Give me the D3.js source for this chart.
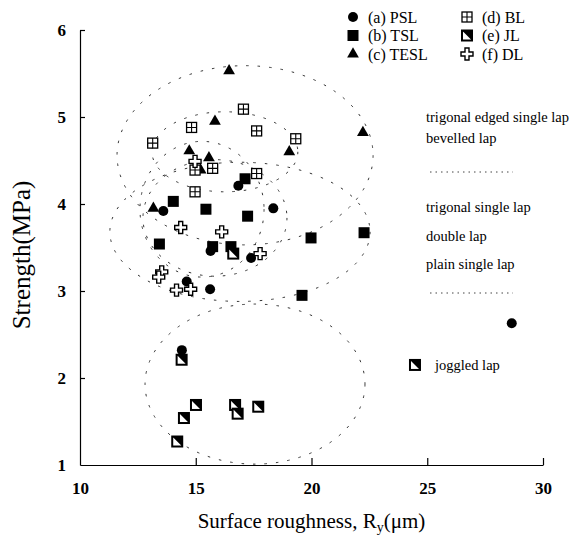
<!DOCTYPE html>
<html>
<head>
<meta charset="utf-8">
<script src="https://cdn.jsdelivr.net/npm/d3@7"></script>
<style>
  body { margin: 0; background: #fff; }
  svg text { font-family: "Liberation Serif", "DejaVu Serif", serif; fill: #000; }
</style>
</head>
<body>
<div id="chart"></div>
<script>
// Strength (MPa) vs surface roughness Ry (um)
const psl = [[14.4, 2.32], [13.6, 3.92], [15.64, 3.46], [14.61, 3.11], [15.62, 3.02], [16.84, 4.21], [18.35, 3.95], [17.39, 3.38], [28.65, 2.63]];
const tsl = [[14.03, 4.03], [13.43, 3.54], [15.44, 3.94], [17.24, 3.86], [15.73, 3.51], [16.52, 3.51], [17.13, 4.29], [19.98, 3.61], [22.27, 3.67], [19.59, 2.95]];
const tesl = [[16.44, 5.53], [22.22, 4.82], [15.83, 4.95], [14.72, 4.61], [15.57, 4.53], [15.21, 4.39], [19.04, 4.6], [13.17, 3.95]];
const bl = [[17.06, 5.09], [14.82, 4.88], [13.14, 4.7], [17.63, 4.84], [19.32, 4.75], [14.97, 4.39], [15.73, 4.41], [17.63, 4.35], [14.97, 4.14]];
const jl = [[14.39, 2.21], [15.01, 1.69], [14.49, 1.54], [14.2, 1.27], [16.7, 1.69], [16.81, 1.59], [17.7, 1.67], [16.62, 3.43], [24.47, 2.15]];
const dl = [[14.97, 4.49], [16.12, 3.68], [14.35, 3.73], [17.78, 3.43], [13.53, 3.22], [13.4, 3.16], [14.17, 3.01], [14.78, 3.02]];

// group regions: centre x, centre y, half width, half height (data units)
const regions = [
  [17.13, 4.56, 5.53, 1.03],
  [16.26, 4.6, 3.15, 0.46],
  [15.27, 3.94, 2.68, 0.78],
  [15.83, 3.84, 3.11, 0.67],
  [16.91, 3.68, 5.62, 0.8],
  [17.56, 1.93, 4.75, 0.92]
];

const legendLabels = ["(a) PSL", "(b) TSL", "(c) TESL", "(d) BL", "(e) JL", "(f) DL"];
const groupLabels = ["trigonal edged single lap", "bevelled lap", "", "trigonal single lap", "double lap", "plain single lap", ""];
const xTicks = [10, 15, 20, 25, 30];
const yTicks = [1, 2, 3, 4, 5, 6];

const width = 583, height = 550;
const x = d3.scaleLinear().domain([10, 30]).range([80, 543]);
const y = d3.scaleLinear().domain([1, 6]).range([465, 30]);

const svg = d3.select("#chart").append("svg")
  .attr("width", width)
  .attr("height", height);

// dotted ellipses
svg.append("g").selectAll("ellipse")
  .data(regions)
  .enter()
  .append("ellipse")
  .attr("cx", d => x(d[0]))
  .attr("cy", d => y(d[1]))
  .attr("rx", d => x(d[0] + d[2]) - x(d[0]))
  .attr("ry", d => y(d[1] - d[3]) - y(d[1]))
  .attr("fill", "none")
  .attr("stroke", "#333")
  .attr("stroke-width", 1)
  .attr("stroke-dasharray", "2.5,9");

// axes
const fmt = d3.format("d");
const xAxis = svg.append("g")
  .attr("transform", "translate(0," + y(1) + ")")
  .call(d3.axisBottom(x).tickValues(xTicks).tickFormat(fmt).tickSizeInner(-7).tickSizeOuter(0).tickPadding(14));
const yAxis = svg.append("g")
  .attr("transform", "translate(" + x(10) + ",0)")
  .call(d3.axisLeft(y).tickValues(yTicks).tickFormat(fmt).tickSizeInner(-5).tickSizeOuter(0).tickPadding(14));

[xAxis, yAxis].forEach(a => {
  a.selectAll("path, line").attr("stroke", "#000").attr("stroke-width", 1.2);
  a.selectAll("text")
    .style("font-family", "'Liberation Serif', serif")
    .style("font-size", "17px")
    .style("font-weight", "bold")
    .attr("fill", "#000");
});
xAxis.selectAll(".tick").filter(d => d === 10).select("line").remove();
yAxis.selectAll(".tick").filter(d => d === 1).select("line").remove();
xAxis.selectAll("text").attr("dy", "0.9em");

// marker painters
const symbols = {
  psl: g => g.append("circle").attr("r", 5).attr("fill", "#000"),
  tsl: g => g.append("rect").attr("x", -5.5).attr("y", -5.5).attr("width", 11).attr("height", 11).attr("fill", "#000"),
  tesl: g => g.append("path").attr("d", d3.symbol(d3.symbolTriangle, 60)()).attr("fill", "#000"),
  bl: g => {
    g.append("rect").attr("x", -5).attr("y", -5).attr("width", 10).attr("height", 10)
      .attr("fill", "#fff").attr("stroke", "#000").attr("stroke-width", 1.3);
    g.append("path").attr("d", "M0,-5V5M-5,0H5").attr("stroke", "#000").attr("stroke-width", 1.1);
  },
  jl: g => {
    g.append("rect").attr("x", -5).attr("y", -5).attr("width", 10).attr("height", 10)
      .attr("fill", "#fff").attr("stroke", "#000").attr("stroke-width", 2);
    g.append("path").attr("d", "M-5,-5H5V5Z").attr("fill", "#000");
  },
  dl: g => g.append("path")
    .attr("d", "M-2,-6H2V-2H6V2H2V6H-2V2H-6V-2H-2Z")
    .attr("fill", "#fff").attr("stroke", "#000").attr("stroke-width", 1.4)
};

const series = [["psl", psl], ["tsl", tsl], ["tesl", tesl], ["bl", bl], ["jl", jl], ["dl", dl]];

series.forEach(([key, values]) => {
  svg.append("g").selectAll("g")
    .data(values)
    .enter()
    .append("g")
    .attr("transform", d => "translate(" + x(d[0]) + "," + y(d[1]) + ")")
    .each(function() { symbols[key](d3.select(this)); });
});

// legend, two columns
const legend = svg.append("g").attr("transform", "translate(353,17)");
series.forEach(([key], i) => {
  const row = legend.append("g")
    .attr("transform", "translate(" + (i < 3 ? 0 : 114) + "," + (i % 3) * 18.5 + ")");
  symbols[key](row);
  row.append("text")
    .attr("x", 15)
    .attr("dy", "0.35em")
    .style("font-size", "16px")
    .text(legendLabels[i]);
});

// group labels at right
const labels = svg.append("g").attr("transform", "translate(426,117)");
const rowY = [0, 21, 55, 90, 119, 147, 176];
groupLabels.forEach((t, i) => {
  if (t) {
    labels.append("text").attr("y", rowY[i]).attr("dy", "0.35em")
      .style("font-size", "14.5px").text(t);
  } else {
    labels.append("line").attr("x1", 4).attr("x2", 87).attr("y1", rowY[i]).attr("y2", rowY[i])
      .attr("stroke", "#444").attr("stroke-width", 1).attr("stroke-dasharray", "1.5,4");
  }
});
labels.append("text").attr("x", 9).attr("y", 248).attr("dy", "0.35em")
  .style("font-size", "14.5px").text("joggled lap");

// axis titles
const xTitle = svg.append("text")
  .attr("x", x(20))
  .attr("y", 528)
  .attr("text-anchor", "middle")
  .style("font-size", "21px");
xTitle.append("tspan").text("Surface roughness, R");
xTitle.append("tspan").attr("dy", 4).style("font-size", "14px").text("y");
xTitle.append("tspan").attr("dy", -4).text("(μm)");

svg.append("text")
  .attr("transform", "translate(30,255) rotate(-90)")
  .attr("text-anchor", "middle")
  .style("font-size", "25px")
  .text("Strength(MPa)");
</script>
</body>
</html>
